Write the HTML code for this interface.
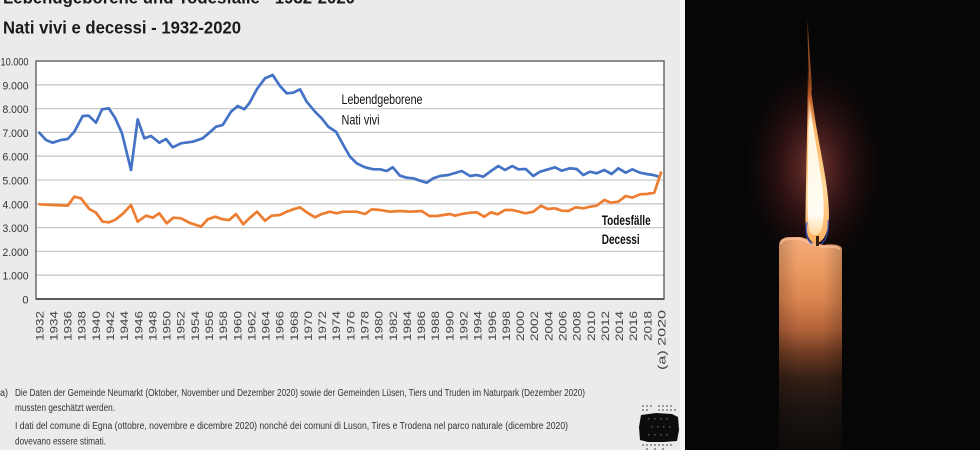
<!DOCTYPE html>
<html><head><meta charset="utf-8">
<style>
html,body{margin:0;padding:0;background:#000;}
svg{display:block;}
text{font-family:"Liberation Sans",Arial,sans-serif;}
</style></head>
<body>
<svg width="980" height="450" viewBox="0 0 980 450" xmlns="http://www.w3.org/2000/svg">
<defs>
  <radialGradient id="glow" cx="0.5" cy="0.5" r="0.5">
    <stop offset="0" stop-color="rgb(170,80,70)" stop-opacity="0.7"/>
    <stop offset="0.45" stop-color="rgb(115,40,42)" stop-opacity="0.4"/>
    <stop offset="1" stop-color="rgb(40,10,15)" stop-opacity="0"/>
  </radialGradient>
  <linearGradient id="wax" x1="0" y1="0" x2="0" y2="1">
    <stop offset="0" stop-color="#f4ac7a"/>
    <stop offset="0.14" stop-color="#ee9c64"/>
    <stop offset="0.29" stop-color="#dc8650"/>
    <stop offset="0.43" stop-color="#b4643a"/>
    <stop offset="0.55" stop-color="#6c3a22"/>
    <stop offset="0.67" stop-color="#331e15"/>
    <stop offset="0.82" stop-color="#1a1310"/>
    <stop offset="1" stop-color="#100c0b"/>
  </linearGradient>
  <linearGradient id="waxside" x1="0" y1="0" x2="1" y2="0">
    <stop offset="0" stop-color="#000" stop-opacity="0.18"/>
    <stop offset="0.3" stop-color="#000" stop-opacity="0"/>
    <stop offset="0.7" stop-color="#000" stop-opacity="0"/>
    <stop offset="1" stop-color="#000" stop-opacity="0.2"/>
  </linearGradient>
  <linearGradient id="flameOuter" x1="0" y1="0" x2="0" y2="1">
    <stop offset="0" stop-color="#7a3010" stop-opacity="0.2"/>
    <stop offset="0.2" stop-color="#c0602a"/>
    <stop offset="0.38" stop-color="#ffb868"/>
    <stop offset="0.7" stop-color="#ffd89a"/>
    <stop offset="1" stop-color="#ffb060"/>
  </linearGradient>
  <linearGradient id="flameCore" x1="0" y1="0" x2="0" y2="1">
    <stop offset="0" stop-color="#fff4d8" stop-opacity="0"/>
    <stop offset="0.2" stop-color="#fff6e0"/>
    <stop offset="0.85" stop-color="#fffdf4"/>
    <stop offset="1" stop-color="#ffd9a0"/>
  </linearGradient>
</defs>

<!-- left chart panel -->
<rect x="0" y="0" width="680" height="450" fill="#ebebeb"/>
<rect x="680" y="0" width="5" height="450" fill="#f6f6f6"/>

<!-- titles -->
<text x="3" y="3.5" font-size="17.5" font-weight="bold" fill="#1a1a1a" textLength="352" lengthAdjust="spacingAndGlyphs">Lebendgeborene und Todesfälle - 1932-2020</text>
<text x="3" y="33.3" font-size="17.5" font-weight="bold" fill="#1a1a1a" textLength="238" lengthAdjust="spacingAndGlyphs">Nati vivi e decessi - 1932-2020</text>

<!-- plot area -->
<rect x="36" y="61" width="628" height="238" fill="#ffffff"/>
<g stroke="#c9c9c9" stroke-width="1.3">
  <line x1="36" y1="84.8" x2="664" y2="84.8"/>
  <line x1="36" y1="108.6" x2="664" y2="108.6"/>
  <line x1="36" y1="132.4" x2="664" y2="132.4"/>
  <line x1="36" y1="156.2" x2="664" y2="156.2"/>
  <line x1="36" y1="180" x2="664" y2="180"/>
  <line x1="36" y1="203.8" x2="664" y2="203.8"/>
  <line x1="36" y1="227.6" x2="664" y2="227.6"/>
  <line x1="36" y1="251.4" x2="664" y2="251.4"/>
  <line x1="36" y1="275.2" x2="664" y2="275.2"/>
</g>
<rect x="36" y="61" width="628" height="238" fill="none" stroke="#4a4a4a" stroke-width="1.2"/>
<line x1="36" y1="299" x2="664" y2="299" stroke="#5a5a5a" stroke-width="2"/>

<!-- y labels -->
<g font-size="11" fill="#333" text-anchor="end">
  <text x="28.5" y="65.5" textLength="28" lengthAdjust="spacingAndGlyphs">10.000</text>
  <text x="28.5" y="89.3" textLength="26" lengthAdjust="spacingAndGlyphs">9.000</text>
  <text x="28.5" y="113.1" textLength="26" lengthAdjust="spacingAndGlyphs">8.000</text>
  <text x="28.5" y="136.9" textLength="26" lengthAdjust="spacingAndGlyphs">7.000</text>
  <text x="28.5" y="160.7" textLength="26" lengthAdjust="spacingAndGlyphs">6.000</text>
  <text x="28.5" y="184.5" textLength="26" lengthAdjust="spacingAndGlyphs">5.000</text>
  <text x="28.5" y="208.3" textLength="26" lengthAdjust="spacingAndGlyphs">4.000</text>
  <text x="28.5" y="232.1" textLength="26" lengthAdjust="spacingAndGlyphs">3.000</text>
  <text x="28.5" y="255.9" textLength="26" lengthAdjust="spacingAndGlyphs">2.000</text>
  <text x="28.5" y="279.7" textLength="26" lengthAdjust="spacingAndGlyphs">1.000</text>
  <text x="28.5" y="303.5">0</text>
</g>

<!-- x labels -->
<g font-size="11" fill="#444" text-anchor="end">
  <text transform="translate(43.3,311) rotate(-90)" textLength="30" lengthAdjust="spacingAndGlyphs">1932</text>
  <text transform="translate(57.4,311) rotate(-90)" textLength="30" lengthAdjust="spacingAndGlyphs">1934</text>
  <text transform="translate(71.6,311) rotate(-90)" textLength="30" lengthAdjust="spacingAndGlyphs">1936</text>
  <text transform="translate(85.7,311) rotate(-90)" textLength="30" lengthAdjust="spacingAndGlyphs">1938</text>
  <text transform="translate(99.9,311) rotate(-90)" textLength="30" lengthAdjust="spacingAndGlyphs">1940</text>
  <text transform="translate(114.0,311) rotate(-90)" textLength="30" lengthAdjust="spacingAndGlyphs">1942</text>
  <text transform="translate(128.1,311) rotate(-90)" textLength="30" lengthAdjust="spacingAndGlyphs">1944</text>
  <text transform="translate(142.3,311) rotate(-90)" textLength="30" lengthAdjust="spacingAndGlyphs">1946</text>
  <text transform="translate(156.4,311) rotate(-90)" textLength="30" lengthAdjust="spacingAndGlyphs">1948</text>
  <text transform="translate(170.6,311) rotate(-90)" textLength="30" lengthAdjust="spacingAndGlyphs">1950</text>
  <text transform="translate(184.7,311) rotate(-90)" textLength="30" lengthAdjust="spacingAndGlyphs">1952</text>
  <text transform="translate(198.8,311) rotate(-90)" textLength="30" lengthAdjust="spacingAndGlyphs">1954</text>
  <text transform="translate(213.0,311) rotate(-90)" textLength="30" lengthAdjust="spacingAndGlyphs">1956</text>
  <text transform="translate(227.1,311) rotate(-90)" textLength="30" lengthAdjust="spacingAndGlyphs">1958</text>
  <text transform="translate(241.3,311) rotate(-90)" textLength="30" lengthAdjust="spacingAndGlyphs">1960</text>
  <text transform="translate(255.4,311) rotate(-90)" textLength="30" lengthAdjust="spacingAndGlyphs">1962</text>
  <text transform="translate(269.5,311) rotate(-90)" textLength="30" lengthAdjust="spacingAndGlyphs">1964</text>
  <text transform="translate(283.7,311) rotate(-90)" textLength="30" lengthAdjust="spacingAndGlyphs">1966</text>
  <text transform="translate(297.8,311) rotate(-90)" textLength="30" lengthAdjust="spacingAndGlyphs">1968</text>
  <text transform="translate(312.0,311) rotate(-90)" textLength="30" lengthAdjust="spacingAndGlyphs">1970</text>
  <text transform="translate(326.1,311) rotate(-90)" textLength="30" lengthAdjust="spacingAndGlyphs">1972</text>
  <text transform="translate(340.2,311) rotate(-90)" textLength="30" lengthAdjust="spacingAndGlyphs">1974</text>
  <text transform="translate(354.4,311) rotate(-90)" textLength="30" lengthAdjust="spacingAndGlyphs">1976</text>
  <text transform="translate(368.5,311) rotate(-90)" textLength="30" lengthAdjust="spacingAndGlyphs">1978</text>
  <text transform="translate(382.7,311) rotate(-90)" textLength="30" lengthAdjust="spacingAndGlyphs">1980</text>
  <text transform="translate(396.8,311) rotate(-90)" textLength="30" lengthAdjust="spacingAndGlyphs">1982</text>
  <text transform="translate(410.9,311) rotate(-90)" textLength="30" lengthAdjust="spacingAndGlyphs">1984</text>
  <text transform="translate(425.1,311) rotate(-90)" textLength="30" lengthAdjust="spacingAndGlyphs">1986</text>
  <text transform="translate(439.2,311) rotate(-90)" textLength="30" lengthAdjust="spacingAndGlyphs">1988</text>
  <text transform="translate(453.4,311) rotate(-90)" textLength="30" lengthAdjust="spacingAndGlyphs">1990</text>
  <text transform="translate(467.5,311) rotate(-90)" textLength="30" lengthAdjust="spacingAndGlyphs">1992</text>
  <text transform="translate(481.6,311) rotate(-90)" textLength="30" lengthAdjust="spacingAndGlyphs">1994</text>
  <text transform="translate(495.8,311) rotate(-90)" textLength="30" lengthAdjust="spacingAndGlyphs">1996</text>
  <text transform="translate(509.9,311) rotate(-90)" textLength="30" lengthAdjust="spacingAndGlyphs">1998</text>
  <text transform="translate(524.1,311) rotate(-90)" textLength="30" lengthAdjust="spacingAndGlyphs">2000</text>
  <text transform="translate(538.2,311) rotate(-90)" textLength="30" lengthAdjust="spacingAndGlyphs">2002</text>
  <text transform="translate(552.3,311) rotate(-90)" textLength="30" lengthAdjust="spacingAndGlyphs">2004</text>
  <text transform="translate(566.5,311) rotate(-90)" textLength="30" lengthAdjust="spacingAndGlyphs">2006</text>
  <text transform="translate(580.6,311) rotate(-90)" textLength="30" lengthAdjust="spacingAndGlyphs">2008</text>
  <text transform="translate(594.8,311) rotate(-90)" textLength="30" lengthAdjust="spacingAndGlyphs">2010</text>
  <text transform="translate(608.9,311) rotate(-90)" textLength="30" lengthAdjust="spacingAndGlyphs">2012</text>
  <text transform="translate(623.0,311) rotate(-90)" textLength="30" lengthAdjust="spacingAndGlyphs">2014</text>
  <text transform="translate(637.2,311) rotate(-90)" textLength="30" lengthAdjust="spacingAndGlyphs">2016</text>
  <text transform="translate(651.3,311) rotate(-90)" textLength="30" lengthAdjust="spacingAndGlyphs">2018</text>
  <text transform="translate(665.5,310) rotate(-90)" textLength="60" lengthAdjust="spacingAndGlyphs">(a) 2020</text>
</g>

<!-- series -->
<polyline fill="none" stroke="#4472c4" stroke-width="2.7" stroke-linejoin="round" stroke-linecap="round"
 points="39.3,132.7 46,140 52.7,142.7 61,140 67.7,139 74.3,131.7 82.7,116 88.7,115.7 96,122.7 102,109.3 108.7,108.3 115.3,118.3 122,133.3 131,170 137.7,119.3 144.3,138.3 151,136 159.3,142.7 166,139 172.7,147.3 181,143.3 192.7,141.7 202.7,138.3 209.3,132.7 216,126.7 222.7,125 231,111.7 237.7,106 244.3,109.3 249.3,103.3 257,89 265,78.3 272.7,75 280,86 286.7,93.3 293.3,92.7 300,89.3 306.7,101.7 315,111.7 321.7,118.3 328.3,126.7 336,131.7 343.3,145 350,156.7 356.7,163.3 365,167.3 373.3,169.3 380,169.3 386.7,171 392.7,167.3 400,175.7 406.7,177.7 413.3,178.3 420,180.7 426.7,182.7 433.3,178.3 440,176 448.3,175 455,173 461.7,171 470,176 476.7,175 483.3,176.7 491,171 498.3,166 505,170 512.3,166 518.3,169.3 525.7,169 533.3,176 540,171.7 548.3,169.3 555,167.3 561.7,170.7 570,168.3 576.7,169 583.3,175 590,171.7 596.7,173.3 604.3,170 611.7,174 618.3,168.3 625.7,172.7 632.3,169.3 640,172.7 646.7,174 653.3,175 659,176.7"/>
<polyline fill="none" stroke="#ed7d31" stroke-width="2.7" stroke-linejoin="round" stroke-linecap="round"
 points="39.3,204.3 52.7,205 67.7,205.7 74.3,196.7 81,198.3 89.3,209 96,212.7 102.7,221.7 109.3,222.3 116,219.3 123.3,213.3 131,205 137.7,221.7 146,215.7 152.7,217.7 159.3,213.3 166.7,223.3 173.3,217.7 181,218.3 189.3,222.7 201,226.7 207.7,219.3 215.3,216.7 222.7,219.3 229.3,220 236,214 243.3,224.3 249.3,218.3 257,211.7 265,220.7 271.7,215.7 280,215 286.7,211.7 293.3,209.3 300,207.3 307.3,212.7 315,217.3 321.7,214 330,211.7 336.7,213.3 343.3,211.7 356.7,211.7 365,214 371.7,209.3 380,210 390,211.7 400,211 410,211.7 421.7,211 429.3,216 436.7,216 443.3,215 450,214 455,215.7 461.7,214 470,212.7 476.7,212.3 484.3,216.7 491,212.3 497.7,214.3 505,210 512.3,210 519,211.7 525.7,213.3 533.3,211.7 541,205.7 547.7,209 555,208.3 561.7,210.7 568.3,211 575.7,207.3 583.3,208.3 590,206.7 596.7,205.7 604.3,200 611,202.7 618.3,201.7 625.7,196 632.3,197.7 640,194.3 646.7,194 654.3,192.7 661,172.7"/>

<!-- series labels -->
<text x="341.5" y="104" font-size="14" fill="#111" textLength="81" lengthAdjust="spacingAndGlyphs">Lebendgeborene</text>
<text x="341.5" y="124.5" font-size="14" fill="#111" textLength="38" lengthAdjust="spacingAndGlyphs">Nati vivi</text>
<text x="601.7" y="225" font-size="14" font-weight="bold" fill="#111" textLength="49" lengthAdjust="spacingAndGlyphs">Todesfälle</text>
<text x="601.7" y="244" font-size="14" font-weight="bold" fill="#111" textLength="38" lengthAdjust="spacingAndGlyphs">Decessi</text>

<!-- footnote -->
<g font-size="10" fill="#333">
  <text x="-3" y="396" textLength="11" lengthAdjust="spacingAndGlyphs">(a)</text>
  <text x="15" y="396" textLength="570" lengthAdjust="spacingAndGlyphs">Die Daten der Gemeinde Neumarkt (Oktober, November und Dezember 2020) sowie der Gemeinden Lüsen, Tiers und Truden im Naturpark (Dezember 2020)</text>
  <text x="15" y="411" textLength="100" lengthAdjust="spacingAndGlyphs">mussten geschätzt werden.</text>
  <text x="15" y="429" textLength="553" lengthAdjust="spacingAndGlyphs">I dati del comune di Egna (ottobre, novembre e dicembre 2020) nonché dei comuni di Luson, Tires e Trodena nel parco naturale (dicembre 2020)</text>
  <text x="15" y="444.5" textLength="91" lengthAdjust="spacingAndGlyphs">dovevano essere stimati.</text>
</g>

<!-- logo blob -->
<g>
  <g fill="#9a9a9a">
    <rect x="642" y="405" width="2" height="2"/><rect x="646" y="405" width="2" height="2"/><rect x="650" y="405" width="2" height="2"/>
    <rect x="658" y="405" width="2" height="2"/><rect x="662" y="405" width="2" height="2"/><rect x="666" y="405" width="2" height="2"/><rect x="670" y="405" width="2" height="2"/>
    <rect x="642" y="409" width="2" height="2"/><rect x="646" y="409" width="2" height="2"/><rect x="658" y="409" width="2" height="2"/><rect x="662" y="409" width="2" height="2"/><rect x="666" y="409" width="2" height="2"/><rect x="670" y="409" width="2" height="2"/><rect x="674" y="409" width="2" height="2"/>
    <rect x="642" y="444" width="2" height="2"/><rect x="646" y="444" width="2" height="2"/><rect x="650" y="444" width="2" height="2"/><rect x="654" y="444" width="2" height="2"/><rect x="658" y="444" width="2" height="2"/><rect x="662" y="444" width="2" height="2"/><rect x="666" y="444" width="2" height="2"/><rect x="670" y="444" width="2" height="2"/>
    <rect x="646" y="448" width="2" height="2"/><rect x="654" y="448" width="2" height="2"/><rect x="662" y="448" width="2" height="2"/>
  </g>
  <path d="M641,415 L656,413 L672,414 L678,417 L679,430 L677,441 L664,442 L648,442 L640,440 L639,427 Z" fill="#0c0c0c"/>
  <g fill="#555">
    <rect x="648" y="418" width="1.5" height="1.5"/><rect x="654" y="418" width="1.5" height="1.5"/><rect x="660" y="418" width="1.5" height="1.5"/><rect x="666" y="418" width="1.5" height="1.5"/>
    <rect x="651" y="426" width="1.5" height="1.5"/><rect x="657" y="426" width="1.5" height="1.5"/><rect x="663" y="426" width="1.5" height="1.5"/><rect x="669" y="426" width="1.5" height="1.5"/>
    <rect x="648" y="434" width="1.5" height="1.5"/><rect x="654" y="434" width="1.5" height="1.5"/><rect x="660" y="434" width="1.5" height="1.5"/><rect x="666" y="434" width="1.5" height="1.5"/>
  </g>
</g>

<!-- candle panel -->
<rect x="685" y="0" width="295" height="450" fill="#060606"/>
<ellipse cx="814" cy="168" rx="72" ry="108" fill="url(#glow)"/>

<!-- candle body -->
<path d="M779,450 L779,246 Q779,238 788,237 L800,237 Q807,238 811,242 L824,245 Q838,243 842,248 L842,450 Z" fill="url(#wax)"/>
<path d="M779,450 L779,246 Q779,238 788,237 L800,237 Q807,238 811,242 L824,245 Q838,243 842,248 L842,450 Z" fill="url(#waxside)"/>
<path d="M781,244 Q782,239 789,239 L799,239 Q806,240 810,244 L823,247 Q836,246 840,249" fill="none" stroke="#f8c49c" stroke-width="2" opacity="0.7"/>

<!-- flame -->
<path d="M807.5,20 C809,45 811,70 812,90 L810,95 C808.5,70 807.5,45 807.5,20 Z" fill="#b05a28" opacity="0.8"/>
<path d="M808,60 C810,85 813,105 816,125 C822,160 829,190 829,215 C829,233 823,243 816,243 C809,243 805,233 805.5,215 C806,180 807,140 807.5,105 C807.8,85 807.8,72 808,60 Z" fill="url(#flameOuter)"/>
<path d="M809,95 C812,120 816,145 820,170 C824,195 825,215 822,228 C819,236 813,237 810,232 C807,224 807.5,200 808,170 C808.3,140 808.5,115 809,95 Z" fill="url(#flameCore)"/>
<path d="M807,222 C805,232 807,241 812,244" fill="none" stroke="#3a5ad0" stroke-width="1.6" opacity="0.8"/>
<path d="M828,220 C829,232 826,240 821,244" fill="none" stroke="#3a5ad0" stroke-width="1.4" opacity="0.7"/>
<rect x="816" y="236" width="3" height="10" fill="#3a2010"/>
</svg>
</body></html>
